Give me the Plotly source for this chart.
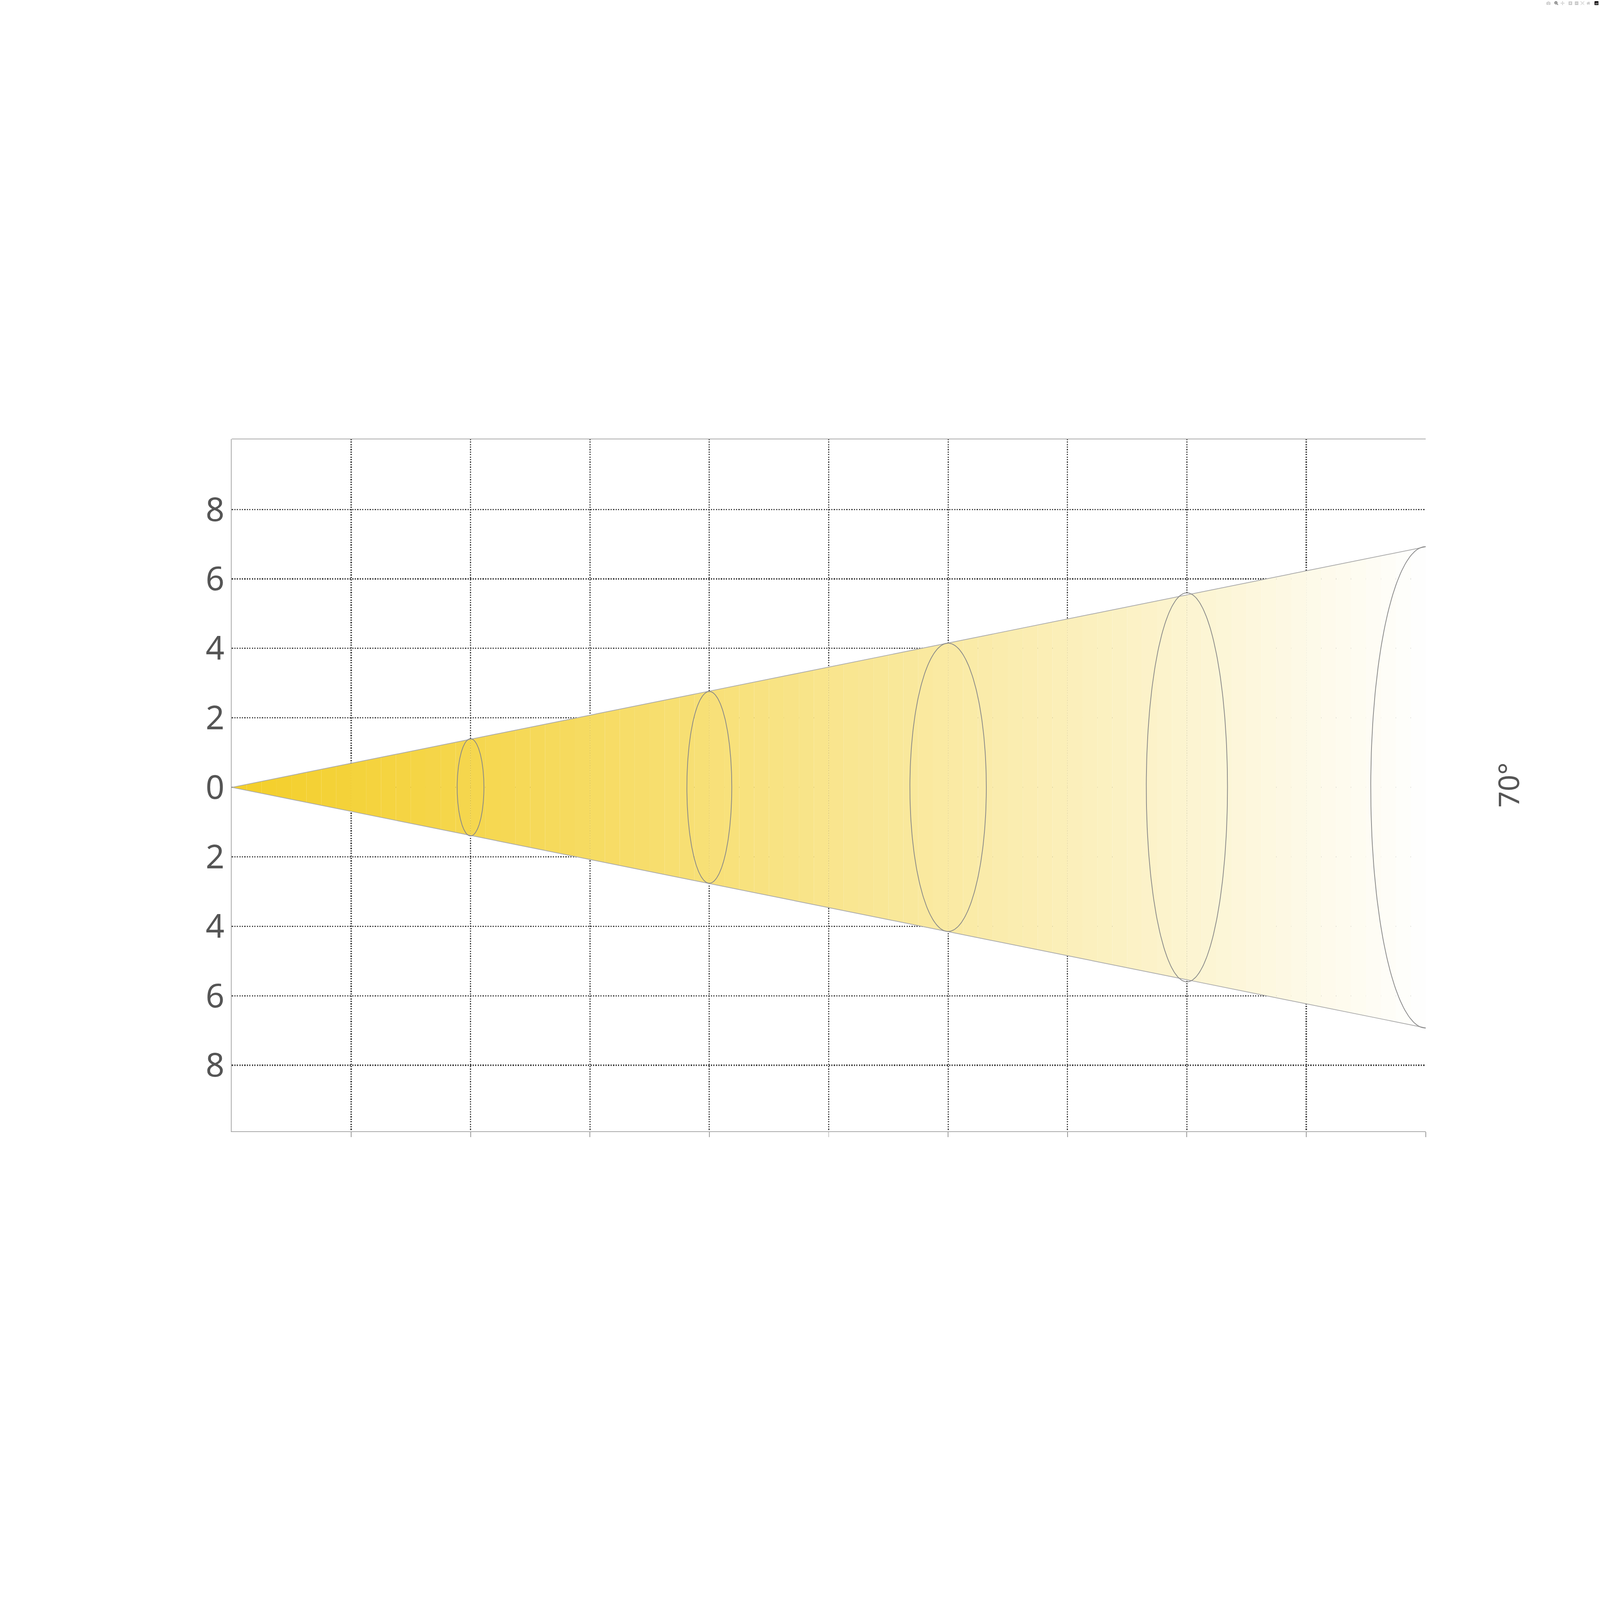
import numpy as np
import plotly.graph_objects as go

S = 6379/1560
distance_labels = ["1", "2", "3", "4", "5"]
label_pos = [0.5, 1.5, 2.5, 3.5, 4.98]
diameters = ["2.75", "5.49", "8.24", "10.99", "13.74"]
lux = ["1410", "353", "157", "88", "56"]
ring_x = [1, 2, 3, 4, 5]
ring_half_h = [1.4, 2.76, 4.15, 5.6, 6.93]
ring_half_w = [0.056, 0.094, 0.16, 0.17, 0.23]
slope = 1.385
beam_angle = "70°"
ytick_vals = [-8, -6, -4, -2, 0, 2, 4, 6, 8]

fig = go.Figure()
c0 = np.array([244, 207, 42]); c1 = np.array([255, 255, 255])
N = 80
for i in range(N):
    a, b = 5*i/N, 5*(i+1)/N
    t = (i+0.5)/N
    c = (c0 + (c1-c0)*t**1.1).astype(int)
    col = f"rgb({c[0]},{c[1]},{c[2]})"
    fig.add_trace(go.Scatter(x=[a, b, b, a, a], y=[slope*a, slope*b, -slope*b, -slope*a, slope*a],
                             fill="toself", fillcolor=col, line=dict(width=0), mode="lines",
                             hoverinfo="skip", showlegend=False))
fig.add_trace(go.Scatter(x=[0, 5.42], y=[0, slope*5.42], mode="lines", line=dict(color="#aaaaaa", width=3), showlegend=False, cliponaxis=False))
fig.add_trace(go.Scatter(x=[0, 5.36], y=[0, -slope*5.36], mode="lines", line=dict(color="#aaaaaa", width=3), showlegend=False, cliponaxis=False))
th = np.linspace(0, 2*np.pi, 200)
for x0, h, w in zip(ring_x, ring_half_h, ring_half_w):
    fig.add_trace(go.Scatter(x=x0 + w*np.cos(th), y=h*np.sin(th), mode="lines", cliponaxis=False,
                             line=dict(color="#888888", width=3), showlegend=False))
pxx, pxy = 232.8, 33.9
R = 1279
ang = np.linspace(np.radians(-19.3), np.radians(19.8), 100)
fig.add_trace(go.Scatter(x=R*np.cos(ang)/pxx, y=R*np.sin(ang)/pxy, mode="lines", cliponaxis=False,
                         line=dict(color="#bbbbbb", width=3), showlegend=False))
for a_end, a_dir in [(np.radians(19.8), 1), (np.radians(-19.3), -1)]:
    xe, ye = R*np.cos(a_end)/pxx, R*np.sin(a_end)/pxy
    a_back = a_end - a_dir*np.radians(1.8)
    xb, yb = R*np.cos(a_back)/pxx, R*np.sin(a_back)/pxy
    fig.add_annotation(x=xe, y=ye, ax=xb, ay=yb, xref="x", yref="y", axref="x", ayref="y",
                       showarrow=True, arrowhead=2, arrowsize=1.3, arrowwidth=10, arrowcolor="#555555", text="")
fig.add_annotation(x=(1490-226)/(1390-226), y=0.5, xref="paper", yref="paper", text=beam_angle,
                   showarrow=False, textangle=-90, font=dict(family="Noto Sans", size=28*S, color="#555555"))

font = dict(family="Noto Sans", color="#555555", size=29*S)
for p, d, l, dm in zip(label_pos, distance_labels, lux, diameters):
    fig.add_annotation(x=p + 0.02, y=-10.9, text=d, showarrow=False, font=font, yanchor="middle")
    fig.add_annotation(x=p + 0.02, y=-12.25, text=l, showarrow=False, font=font, yanchor="middle")
    fig.add_annotation(x=p + 0.02, y=10.85, text=dm, showarrow=False, font=font, yanchor="middle")
for txt, yy in [("Diameter(M)", 10.85), ("Distance(M)", -10.9), ("Lux center(lux)", -12.25)]:
    fig.add_annotation(x=-0.63, y=yy, text=txt, showarrow=False, font=font, xanchor="left", yanchor="middle")
fig.add_annotation(x=-0.41, y=0, text="Beam Opening", textangle=-90, showarrow=False,
                   font=dict(family="Noto Sans", color="#555555", size=34*S))

grid = dict(showgrid=True, gridcolor="#444444", griddash="dot", gridwidth=5)
fig.update_layout(
    width=6379, height=6379, plot_bgcolor="white", paper_bgcolor="white",
    margin=dict(l=226*S, r=(1560-1390)*S, t=428*S, b=(1560-1103)*S),
    xaxis=dict(range=[0, 5], tickvals=[0.5*i for i in range(1, 11)], showticklabels=False,
               zeroline=False, ticks="outside", ticklen=20, tickcolor="#999999", tickwidth=3,
               showline=True, linecolor="#aaaaaa", linewidth=3, mirror=False, **grid),
    yaxis=dict(range=[-9.9, 10.03], tickvals=ytick_vals, ticktext=[str(abs(v)) for v in ytick_vals],
               tickfont=dict(family="Noto Sans", color="#555555", size=32*S), ticks="",
               zeroline=False, showline=True, linecolor="#aaaaaa", linewidth=3, **grid),
    font=dict(family="Noto Sans"),
)
fig.add_shape(type="line", xref="paper", yref="paper", x0=0, x1=1, y0=1, y1=1, line=dict(color="#aaaaaa", width=3))
fig.write_html("out.html", post_script=(
    "document.body.style.margin='0';document.documentElement.style.overflow='hidden';"
    "document.body.style.zoom=(Math.min(window.innerWidth,window.innerHeight)/6379);"))
